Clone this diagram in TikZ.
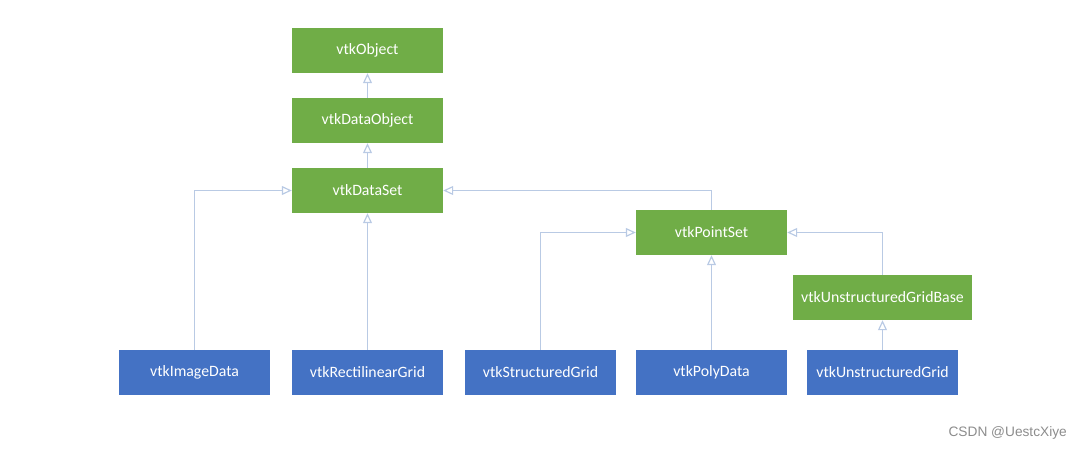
\documentclass[tikz,border=0pt]{standalone}
\usepackage{fontspec}
\setmainfont{Carlito}
\newfontfamily\wmfont{Liberation Sans}
\usetikzlibrary{arrows.meta}
\definecolor{vgreen}{RGB}{112,173,71}
\definecolor{vblue}{RGB}{68,114,196}
\definecolor{vline}{RGB}{185,202,228}
\tikzset{
  cls/.style={draw=none, minimum height=45pt, text=white, inner sep=0pt, font=\fontsize{15.8}{18}\selectfont},
  gbox/.style={cls, fill=vgreen, minimum width=151pt},
  bbox/.style={cls, fill=vblue, minimum width=151pt},
  inh/.style={draw=vline, line width=1.2pt, -{Triangle[open, length=10pt, width=9pt]}},
}
\begin{document}
\begin{tikzpicture}[x=1pt,y=-1pt]
\useasboundingbox (0,0) rectangle (1082,449);
\node[gbox] (obj) at (367.5,50.5) {vtkObject};
\node[gbox] (dobj) at (367.5,120.5) {vtkDataObject};
\node[gbox] (ds) at (367.5,190.5) {vtkDataSet};
\node[gbox] (ps) at (711.5,232.5) {vtkPointSet};
\node[gbox, minimum width=179pt] (ugb) at (882.5,297.5) {vtkUnstructuredGridBase};
\node[bbox] (img) at (194.5,372.5) {vtkImageData};
\node[bbox] (rect) at (367.5,372.5) {vtkRectilinearGrid};
\node[bbox] (sg) at (540.5,372.5) {vtkStructuredGrid};
\node[bbox] (pd) at (711.5,372.5) {vtkPolyData};
\node[bbox] (ug) at (882.5,372.5) {vtkUnstructuredGrid};
\node[anchor=east, text=black!45, font=\wmfont\fontsize{13.7}{16}\selectfont, inner sep=0pt] (wm) at (1067,433) {CSDN @UestcXiye};
\draw[inh] (dobj) -- (obj);
\draw[inh] (ds) -- (dobj);
\draw[inh] (rect) -- (ds);
\draw[inh] (img.north) |- (ds.west);
\draw[inh] (ps.north) |- (ds.east);
\draw[inh] (sg.north) |- (ps.west);
\draw[inh] (pd) -- (ps);
\draw[inh] (ugb.north) |- (ps.east);
\draw[inh] (ug) -- (ugb);
\end{tikzpicture}
\end{document}
